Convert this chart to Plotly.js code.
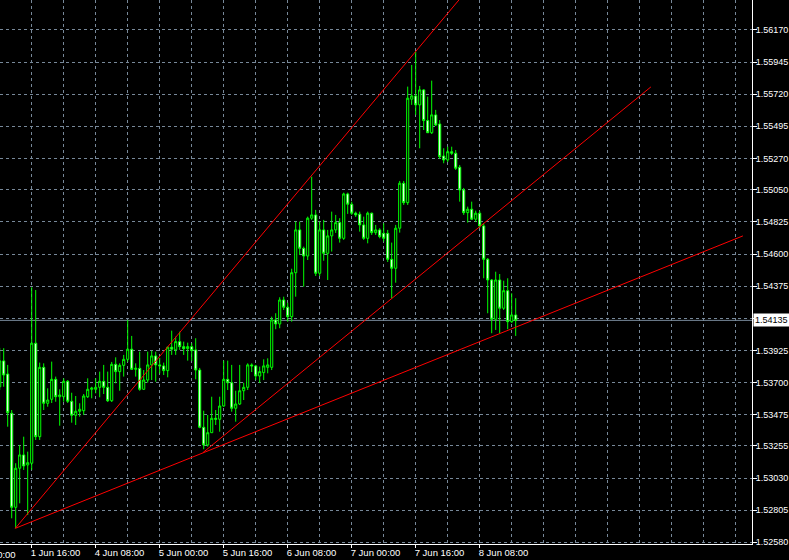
<!DOCTYPE html>
<html>
<head>
<meta charset="utf-8">
<script src="https://cdn.plot.ly/plotly-3.0.1.min.js"></script>
<style>
html,body{margin:0;padding:0;background:#000;overflow:hidden;}
#chart{width:789px;height:560px;}
</style>
</head>
<body>
<div id="chart"></div>
<script>
// Hourly bars, bar index 0 = 1 Jun 16:00 (trading hours, weekend skipped)
const firstBar = -8;

const open = [
1.53670,1.53851,1.53759,1.53484,1.52825,1.53099,1.53192,1.53122,
1.53134,1.53975,1.53320,1.53806,1.53554,1.53582,1.53722,1.53600,1.53600,1.53708,
1.53568,1.53470,1.53498,1.53502,1.53600,1.53652,1.53652,1.53666,1.53708,1.53666,
1.53572,1.53827,1.53776,1.53820,1.53862,1.53933,1.53792,1.53799,1.53652,1.53717,
1.53823,1.53886,1.53823,1.53816,1.53783,1.53947,1.53928,1.53986,1.53951,1.53937,
1.53951,1.53928,1.53787,1.53386,1.53262,1.53348,1.53449,1.53442,1.53535,1.53722,
1.53698,1.53519,1.53549,1.53642,1.53666,1.53823,1.53816,1.53745,1.53769,1.53806,
1.53806,1.54138,1.54110,1.54278,1.54227,1.54161,1.54469,1.54769,1.54640,1.54586,
1.54851,1.54874,1.54465,1.54769,1.54605,1.54727,1.54769,1.54820,1.54710,1.55021,
1.54949,1.54886,1.54879,1.54804,1.54710,1.54886,1.54750,1.54769,1.54745,1.54745,
1.54563,1.54500,1.54781,1.55096,1.54960,1.55685,1.55708,1.55645,1.55750,1.55535,
1.55450,1.55575,1.55511,1.55287,1.55259,1.55317,1.55306,1.55208,1.55049,1.54890,
1.54914,1.54844,1.54886,1.54797,1.54563,1.54418,1.54143,1.54418,1.54220,1.54343,
1.54126,1.54173
];
const high = [
1.53942,1.53940,1.53823,1.53507,1.53134,1.53262,1.53320,1.53215,
1.54367,1.54348,1.53839,1.53834,1.53659,1.53846,1.53741,1.53652,1.53729,1.53717,
1.53628,1.53605,1.53554,1.53619,1.53729,1.53670,1.53729,1.53776,1.53823,1.53776,
1.53844,1.53876,1.53834,1.53893,1.54138,1.54026,1.53834,1.53916,1.53787,1.53916,
1.53923,1.53916,1.53872,1.53839,1.53951,1.54063,1.54021,1.54056,1.53986,1.53979,
1.53975,1.54010,1.53802,1.53502,1.53472,1.53600,1.53507,1.53600,1.53853,1.53853,
1.53823,1.53642,1.53823,1.53698,1.53834,1.53834,1.53823,1.53811,1.53862,1.53869,
1.54161,1.54185,1.54297,1.54301,1.54259,1.54497,1.54827,1.54827,1.54652,1.54862,
1.55142,1.54909,1.54827,1.54839,1.54769,1.54897,1.54874,1.54851,1.55030,1.55030,
1.54967,1.54897,1.54897,1.54862,1.54897,1.54890,1.54804,1.54781,1.54816,1.54769,
1.54680,1.54804,1.55112,1.55112,1.55773,1.55925,1.56018,1.55778,1.55755,1.55703,
1.55815,1.55610,1.55539,1.55341,1.55352,1.55352,1.55329,1.55224,1.55063,1.54932,
1.54967,1.54904,1.54902,1.54816,1.54572,1.54425,1.54476,1.54460,1.54413,1.54430,
1.54325,1.54290
];
const low = [
1.53647,1.53670,1.53390,1.52748,1.52678,1.52853,1.53087,1.52771,
1.53087,1.53297,1.53297,1.53507,1.53530,1.53556,1.53565,1.53397,1.53565,1.53556,
1.53418,1.53402,1.53460,1.53472,1.53591,1.53589,1.53624,1.53596,1.53619,1.53563,
1.53563,1.53694,1.53642,1.53741,1.53844,1.53787,1.53741,1.53642,1.53647,1.53698,
1.53717,1.53705,1.53764,1.53752,1.53736,1.53893,1.53893,1.53928,1.53893,1.53853,
1.53851,1.53722,1.53379,1.53232,1.53250,1.53346,1.53402,1.53355,1.53530,1.53647,
1.53495,1.53425,1.53542,1.53577,1.53647,1.53773,1.53717,1.53696,1.53717,1.53764,
1.53787,1.54073,1.54080,1.54208,1.54126,1.54126,1.54301,1.54593,1.54371,1.54558,
1.54839,1.54446,1.54446,1.54553,1.54418,1.54617,1.54748,1.54680,1.54699,1.54881,
1.54874,1.54860,1.54757,1.54699,1.54675,1.54734,1.54734,1.54710,1.54687,1.54544,
1.54290,1.54399,1.54750,1.54944,1.54944,1.55645,1.55575,1.55341,1.55469,1.55448,
1.55441,1.55497,1.55266,1.55236,1.55245,1.55294,1.55189,1.54967,1.54874,1.54820,
1.54839,1.54825,1.54783,1.54430,1.54185,1.54045,1.54068,1.54045,1.54208,1.54073,
1.54117,1.54026
];
const close = [
1.53851,1.53752,1.53488,1.52825,1.53099,1.53192,1.53115,1.53138,
1.53975,1.53320,1.53806,1.53554,1.53577,1.53722,1.53600,1.53612,1.53708,1.53568,
1.53470,1.53498,1.53512,1.53605,1.53652,1.53661,1.53666,1.53708,1.53666,1.53572,
1.53827,1.53776,1.53820,1.53862,1.53933,1.53792,1.53799,1.53652,1.53717,1.53823,
1.53886,1.53823,1.53816,1.53783,1.53947,1.53933,1.53986,1.53951,1.53937,1.53951,
1.53923,1.53787,1.53386,1.53262,1.53348,1.53449,1.53442,1.53535,1.53722,1.53698,
1.53519,1.53549,1.53642,1.53666,1.53823,1.53816,1.53745,1.53776,1.53816,1.53823,
1.54138,1.54110,1.54278,1.54227,1.54161,1.54469,1.54769,1.54640,1.54586,1.54851,
1.54874,1.54465,1.54769,1.54605,1.54727,1.54769,1.54820,1.54710,1.55021,1.54949,
1.54886,1.54874,1.54804,1.54710,1.54886,1.54750,1.54769,1.54722,1.54710,1.54563,
1.54500,1.54781,1.55096,1.54960,1.55692,1.55708,1.55645,1.55750,1.55535,1.55450,
1.55575,1.55504,1.55282,1.55259,1.55317,1.55306,1.55201,1.55049,1.54890,1.54914,
1.54844,1.54886,1.54797,1.54563,1.54418,1.54143,1.54418,1.54220,1.54343,1.54126,
1.54173,1.54135
];

// Time axis labels (bar index -> label)
const timeTickBars = [-16, 0, 16, 32, 48, 64, 80, 96, 112];
const timeTickLabels = ['1 Jun 00:00','1 Jun 16:00','4 Jun 08:00','5 Jun 00:00','5 Jun 16:00','6 Jun 08:00','7 Jun 00:00','7 Jun 16:00','8 Jun 08:00'];

// Price axis grid / labels
const priceTicks = [1.56170,1.55945,1.55720,1.55495,1.55270,1.55050,1.54825,1.54600,1.54375,1.54150,1.53925,1.53700,1.53475,1.53255,1.53030,1.52805,1.52580];
const priceLabels = ['1.56170','1.55945','1.55720','1.55495','1.55270','1.55050','1.54825','1.54600','1.54375','','1.53925','1.53700','1.53475','1.53255','1.53030','1.52805','1.52580'];

// Trend lines drawn on the chart: [bar0, price0, bar1, price1]
const trendLines = [
  [-4.1, 1.52678, 106.8, 1.56380],
  [-4.1, 1.52678, 177.8, 1.54727],
  [42.8, 1.53208, 154.8, 1.55771]
];

const lastPrice = close[close.length - 1];

const xRange = [-7.925, 180.075];
const yRange = [1.52568, 1.56380];
const gridCol = '#778899';
const font = {family: 'Liberation Sans, Arial, sans-serif', size: 9.5, color: '#ffffff'};
const yFont = {family: 'Liberation Sans, Arial, sans-serif', size: 9, color: '#ffffff'};

const bars = open.map((_, k) => firstBar + k);

const trace = {
  type: 'candlestick',
  x: bars, open: open, high: high, low: low, close: close,
  increasing: {line: {color: '#00ff00', width: 1}, fillcolor: '#000000'},
  decreasing: {line: {color: '#00ff00', width: 1}, fillcolor: '#ffffff'},
  whiskerwidth: 0,
  hoverinfo: 'skip',
  showlegend: false
};

const shapes = trendLines.map(t => ({
  type: 'line', xref: 'x', yref: 'y',
  x0: t[0], y0: t[1], x1: t[2], y1: t[3],
  line: {color: '#ff0000', width: 1}
}));
shapes.push({
  type: 'line', xref: 'paper', yref: 'y', x0: 0, x1: 1, y0: lastPrice, y1: lastPrice,
  line: {color: gridCol, width: 1}, layer: 'below'
});

const layout = {
  width: 789, height: 560,
  margin: {l: 0, r: 37, t: 0, b: 16, pad: 0},
  paper_bgcolor: '#000000', plot_bgcolor: '#000000',
  font: font,
  showlegend: false,
  hovermode: false,
  boxgap: 0.25,
  xaxis: {
    type: 'linear', range: xRange, fixedrange: true,
    rangeslider: {visible: false},
    tickmode: 'array', tickvals: timeTickBars, ticktext: timeTickLabels,
    ticks: 'outside', ticklen: 3, tickcolor: '#ffffff', tickwidth: 1,
    ticklabelposition: 'outside right',
    ticklabelshift: -2,
    tickfont: font,
    showgrid: true, gridcolor: gridCol, griddash: '3px,3px', gridwidth: 1,
    minor: {tickmode: 'linear', tick0: 0, dtick: 8, showgrid: true, gridcolor: gridCol, griddash: '3px,3px', gridwidth: 1, ticks: ''},
    showline: true, linecolor: '#ffffff', linewidth: 1,
    zeroline: false
  },
  yaxis: {
    side: 'right', range: yRange, fixedrange: true,
    tickmode: 'array', tickvals: priceTicks, ticktext: priceLabels,
    ticks: 'outside', ticklen: 4, tickcolor: '#ffffff', tickwidth: 1,
    ticklabelstandoff: -3,
    tickfont: yFont,
    showgrid: true, gridcolor: gridCol, griddash: '3px,3px', gridwidth: 1,
    showline: true, linecolor: '#ffffff', linewidth: 1,
    zeroline: false
  },
  shapes: shapes,
  annotations: [
    {
      xref: 'paper', yref: 'y', x: 1, y: lastPrice, xanchor: 'left', yanchor: 'middle',
      text: lastPrice.toFixed(5), showarrow: false,
      bgcolor: '#ffffff', font: {family: yFont.family, size: yFont.size, color: '#000000'},
      borderpad: 1, xshift: 1
    },
    {
      xref: 'paper', yref: 'paper',
      x: (timeTickBars[0] - xRange[0]) / (xRange[1] - xRange[0]), y: 0,
      xanchor: 'left', yanchor: 'top', yshift: -3, xshift: -4,
      text: timeTickLabels[0], showarrow: false, font: font
    }
  ]
};

Plotly.newPlot('chart', [trace], layout, {displayModeBar: false, staticPlot: true});
</script>
</body>
</html>
